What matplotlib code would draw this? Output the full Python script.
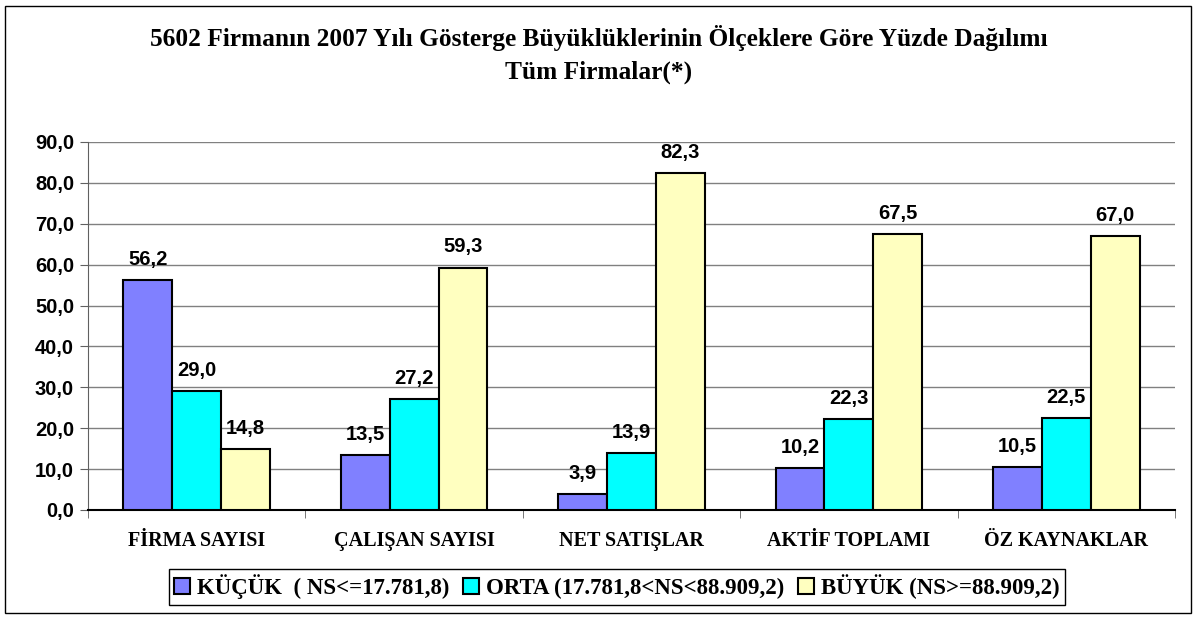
import numpy as np
import matplotlib.pyplot as plt
from matplotlib.patches import Rectangle

kategoriler = ["FİRMA SAYISI", "ÇALIŞAN SAYISI", "NET SATIŞLAR", "AKTİF TOPLAMI", "ÖZ KAYNAKLAR"]
kucuk = [56.2, 13.5, 3.9, 10.2, 10.5]
orta = [29.0, 27.2, 13.9, 22.3, 22.5]
buyuk = [14.8, 59.3, 82.3, 67.5, 67.0]
seriler = ["KÜÇÜK  ( NS<=17.781,8)", "ORTA (17.781,8<NS<88.909,2)", "BÜYÜK (NS>=88.909,2)"]
renkler = ["#8080FF", "#00FFFF", "#FFFFC0"]

serif = "Liberation Serif"
sans = "Liberation Sans"

fig = plt.figure(figsize=(11.98, 6.18), dpi=100)
ax = fig.add_axes([88 / 1198, 1 - 510 / 618, (1175 - 88) / 1198, (510 - 142) / 618])

x = np.arange(len(kategoriler))
w = 0.225
for i, (vals, ad, renk) in enumerate(zip([kucuk, orta, buyuk], seriler, renkler)):
    bars = ax.bar(x + (i - 1) * w, vals, w, color=renk, edgecolor="black",
                  linewidth=1.5, label=ad, zorder=3)
    for b, v in zip(bars, vals):
        ax.annotate(f"{v:.1f}".replace(".", ","), (b.get_x() + b.get_width() / 2, v),
                    xytext=(0, 8), textcoords="offset points", ha="center", va="bottom",
                    fontsize=14.5, fontweight="bold", family=sans)

ax.set_xlim(-0.5, 4.5)
ax.set_ylim(0, 90)
ax.set_yticks(np.arange(0, 91, 10))
ax.set_yticklabels([f"{t:.1f}".replace(".", ",") for t in np.arange(0, 91, 10)],
                   fontsize=14.5, fontweight="bold", family=sans)
ax.yaxis.grid(True, color="#808080", linewidth=1, zorder=0)
ax.set_xticks(x)
ax.set_xticklabels(kategoriler, fontsize=14.5, fontweight="bold", family=serif)
ax.tick_params(axis="x", length=0, pad=15)
ax.set_xticks(np.arange(-0.5, 5, 1), minor=True)
ax.tick_params(axis="x", which="minor", length=6, color="#606060")
ax.tick_params(axis="y", length=6, color="#606060", pad=4)
for s in ["top", "right"]:
    ax.spines[s].set_visible(False)
ax.spines["left"].set_color("#606060")
ax.spines["bottom"].set_color("black")
ax.spines["bottom"].set_linewidth(1.5)

fig.text(0.5, 1 - 38 / 618, "5602 Firmanın 2007 Yılı Gösterge Büyüklüklerinin Ölçeklere Göre Yüzde Dağılımı",
         ha="center", va="center", fontsize=18.3, fontweight="bold", family=serif)
fig.text(0.5, 1 - 72 / 618, "Tüm Firmalar(*)", ha="center", va="center",
         fontsize=18.3, fontweight="bold", family=serif)

leg = fig.legend(loc="center", bbox_to_anchor=(617 / 1198, 1 - 587 / 618), ncol=3,
                 prop={"family": serif, "weight": "bold", "size": 16.5},
                 fancybox=False, edgecolor="black", framealpha=1,
                 handlelength=0.7, handleheight=0.7, handletextpad=0.3,
                 columnspacing=0.6, borderpad=0.25)
leg.get_frame().set_linewidth(1)

fig.patches.append(Rectangle((5 / 1198, 5 / 618), 1186 / 1198, 607 / 618,
                             transform=fig.transFigure, fill=False,
                             edgecolor="black", linewidth=1))

fig.savefig("out.png", dpi=100)
